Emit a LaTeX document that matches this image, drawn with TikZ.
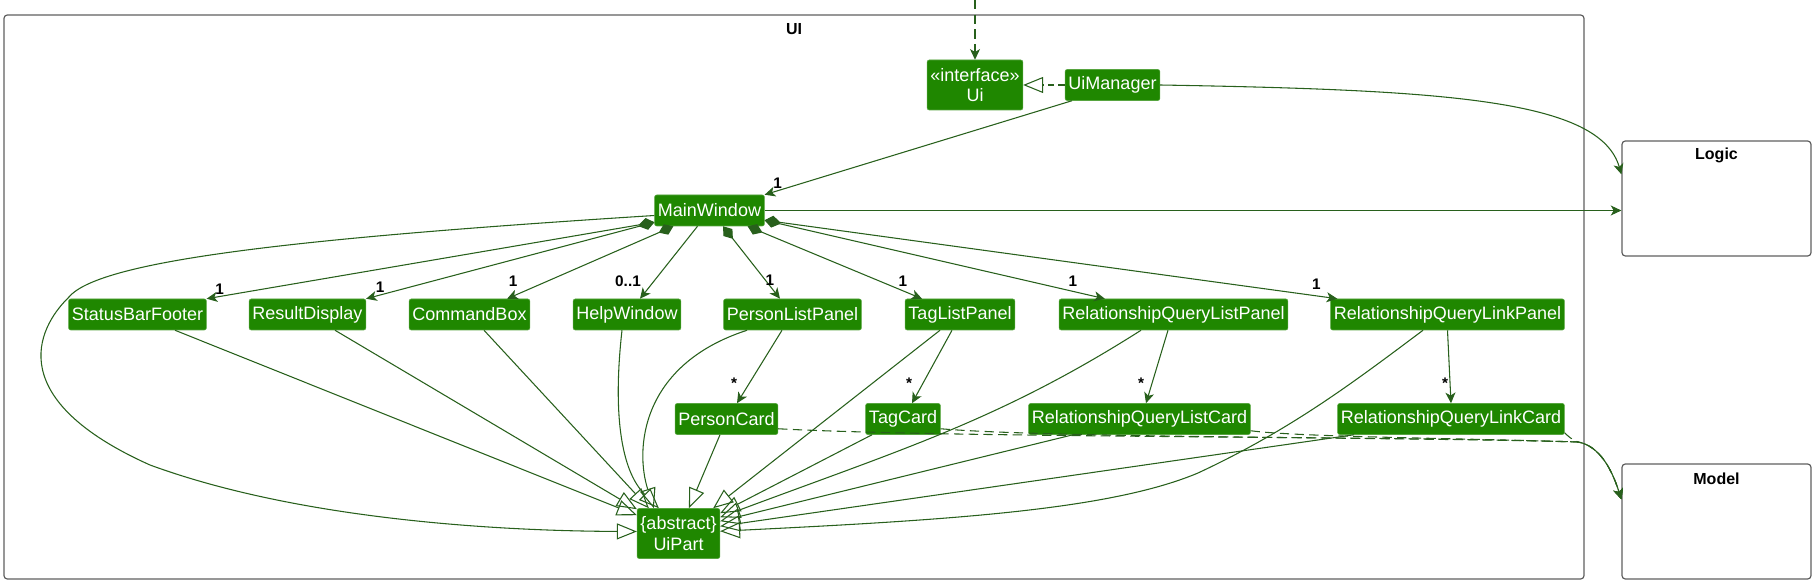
\documentclass[tikz,border=0pt]{standalone}
\usepackage{fontspec}
\setmainfont{Liberation Sans}
\usetikzlibrary{positioning, arrows.meta, calc}

\definecolor{umlgreen}{RGB}{31,135,0}
\definecolor{umlline}{RGB}{40,96,28}
\definecolor{umlframe}{RGB}{95,95,95}

\begin{document}
\begin{tikzpicture}[x=0.75pt, y=-0.75pt,
  cls/.style={draw=umlgreen!75!white, fill=umlgreen, rounded corners=1.5pt, text=white,
    font=\fontsize{13.5}{15.5}\selectfont, inner xsep=2.5pt, inner ysep=0pt,
    minimum height=23.25pt, align=center},
  pkg/.style={draw=umlframe, line width=0.9pt, rounded corners=2.5pt},
  pkgname/.style={font=\fontsize{12}{14}\selectfont\bfseries, inner sep=0pt},
  lbl/.style={font=\fontsize{11.5}{13}\selectfont\bfseries, inner sep=0pt},
  link/.style={draw=umlline, line width=0.8pt},
  assoc/.style={link, -{Stealth[length=8pt, width=7.5pt, inset=2.2pt]}},
  comp/.style={link, {Diamond[length=12pt, width=8.5pt]}-{Stealth[length=8pt, width=7.5pt, inset=2.2pt]}},
  inherit/.style={link, -{Triangle[open, length=15pt, width=12pt]}},
  realize/.style={inherit, dash pattern=on 5pt off 3pt},
  dep/.style={assoc, dash pattern=on 7pt off 4pt}
]
  \useasboundingbox (0,0) rectangle (1817,580);

  % packages
  \draw[pkg] (4,15) rectangle (1584,579);
  \node[pkgname] (uititle) at (794,29) {UI};
  \node[pkg, minimum width=141.75pt, minimum height=86.25pt, inner sep=0pt] (logic) at (1716.5,198.5) {};
  \node[pkgname] (logictitle) at ($(logic.north)+(0,15)$) {Logic};
  \node[pkg, minimum width=141.75pt, minimum height=86.25pt, inner sep=0pt] (model) at (1716.5,521.5) {};
  \node[pkgname] (modeltitle) at ($(model.north)+(0,15)$) {Model};

  % classes
  \node[cls, minimum height=37.5pt] (ui) at (975,85) {«interface»\\Ui};
  \node[cls] (uimgr) at (1112.5,85) {UiManager};
  \node[cls] (mainw) at (709.5,210.5) {MainWindow};

  \node[cls] (sbf)  at (137.5,314.5)  {StatusBarFooter};
  \node[cls] (rd)   at (307.5,314.5)  {ResultDisplay};
  \node[cls] (cb)   at (469.5,314.5)  {CommandBox};
  \node[cls] (hw)   at (627,314.5)    {HelpWindow};
  \node[cls] (plp)  at (792.5,314.5)  {PersonListPanel};
  \node[cls] (tlp)  at (960,314.5)    {TagListPanel};
  \node[cls] (rqlp) at (1173.5,314.5) {RelationshipQueryListPanel};
  \node[cls] (rqkp) at (1447.5,314.5) {RelationshipQueryLinkPanel};

  \node[cls] (pcard) at (726.5,419)  {PersonCard};
  \node[cls] (tcard) at (903,419)    {TagCard};
  \node[cls] (rqlc)  at (1139.5,419) {RelationshipQueryListCard};
  \node[cls] (rqkc)  at (1451,419)   {RelationshipQueryLinkCard};

  \node[cls, minimum height=37.5pt] (uipart) at (678.5,533.5) {\{abstract\}\\UiPart};

  % ui, manager, logic
  \coordinate (uiin) at (975,0);
  \draw[dep] (uiin) -- (ui.north);
  \draw[realize] (uimgr.west) -- (ui.east);
  \draw[assoc] ($(uimgr.south west)+(7,0)$) -- (mainw.north east) node[lbl, at end, shift={(13,-12)}] {1};
  \draw[assoc] (uimgr.east) .. controls (1450,90) and (1600,100) .. ($(logic.north west)+(0,34)$);
  \draw[assoc] (mainw.east) -- (mainw.east -| logic.west);

  % parts of the main window
  \draw[comp] ($(mainw.south west)+(0,-4)$) -- (sbf.north east) node[lbl, at end, shift={(13,-10)}] {1};
  \draw[comp] ($(mainw.south west)+(0,-4)$) -- (rd.north east) node[lbl, at end, shift={(14,-12)}] {1};
  \draw[comp] ($(mainw.south west)+(19,0)$) -- ($(cb.north east)+(-23,0)$) node[lbl, at end, shift={(6,-18)}] {1};
  \draw[assoc] ($(mainw.south)+(-12,0)$) -- ($(hw.north)+(13,0)$) node[lbl, at end, shift={(-12,-18)}] {0..1};
  \draw[comp] ($(mainw.south)+(13.5,0)$) -- ($(plp.north)+(-12.5,0)$) node[lbl, at end, shift={(-10,-19)}] {1};
  \draw[comp] ($(mainw.south east)+(-17,0)$) -- ($(tlp.north)+(-38,0)$) node[lbl, at end, shift={(-19,-18)}] {1};
  \draw[comp] ($(mainw.south east)+(0,-6)$) -- ($(rqlp.north west)+(46,0)$) node[lbl, at end, shift={(-32,-18)}] {1};
  \draw[comp] ($(mainw.south east)+(0,-6)$) -- ($(rqkp.north west)+(7,0)$) node[lbl, at end, shift={(-21,-15)}] {1};

  % panels to cards
  \draw[assoc] ($(plp.south)+(-10.5,0)$) -- ($(pcard.north)+(10.5,0)$) node[lbl, at end, shift={(-3,-20)}] {*};
  \draw[assoc] ($(tlp.south)+(-8,0)$) -- ($(tcard.north)+(9,0)$) node[lbl, at end, shift={(-3,-20)}] {*};
  \draw[assoc] ($(rqlp.south)+(-5.5,0)$) -- ($(rqlc.north)+(6.5,0)$) node[lbl, at end, shift={(-5,-20)}] {*};
  \draw[assoc] (rqkp.south) -- (rqkc.north) node[lbl, at end, shift={(-6,-20)}] {*};

  % everything is a UiPart
  \draw[inherit] ($(mainw.west)+(0,5)$) .. controls (300,238) and (100,260) .. (69,297)
    .. controls (35,330) and (5,400) .. (150,465) .. controls (300,520) and (500,531) .. ($(uipart.west)+(0,-2)$);
  \draw[inherit] ($(sbf.south)+(37.5,0)$) -- ($(uipart.north west)+(0,7)$);
  \draw[inherit] ($(rd.south)+(27.5,0)$) -- ($(uipart.north west)+(0,1)$);
  \draw[inherit] ($(cb.south)+(14.5,0)$) -- ($(uipart.north west)+(12,0)$);
  \draw[inherit] ($(hw.south)+(-5,0)$) .. controls (613,410) and (620,470) .. ($(uipart.north west)+(22,0)$);
  \draw[inherit] ($(plp.south)+(-45.5,0)$) .. controls (640,365) and (635,450) .. ($(uipart.north west)+(17,0)$);
  \draw[inherit] ($(pcard.south)+(-6.5,0)$) -- ($(uipart.north west)+(52,0)$);
  \draw[inherit] ($(tlp.south)+(-20,0)$) -- ($(uipart.north east)+(-7,0)$);
  \draw[inherit] ($(tcard.south)+(-31,0)$) -- ($(uipart.north east)+(0,5)$);
  \draw[inherit] ($(rqlp.south)+(-32.5,0)$) .. controls (1000,420) and (900,450) .. ($(uipart.north east)+(0,9)$);
  \draw[inherit] ($(rqlc.south)+(-66.5,0)$) -- ($(uipart.north east)+(0,13)$);
  \draw[inherit] ($(rqkc.south)+(-97,0)$) -- ($(uipart.north east)+(0,18)$);
  \draw[inherit] ($(rqkp.south)+(-24.5,0)$) .. controls (1350,385) and (1290,430) .. (1198,473)
    .. controls (1110,510) and (950,520) .. ($(uipart.north east)+(0,23)$);

  % cards use the model
  \coordinate (mjoin) at (1578,442);
  \draw[dep] ($(pcard.south east)+(0,-6)$) .. controls (950,438) and (1400,436) .. (mjoin)
    .. controls (1600,446) and (1612,470) .. ($(model.north west)+(0,36)$);
  \draw[dep] ($(tcard.south east)+(0,-6)$) .. controls (1050,438) and (1400,437) .. (mjoin)
    .. controls (1600,446) and (1612,470) .. ($(model.north west)+(0,36)$);
  \draw[dep] ($(rqlc.south east)+(0,-4)$) .. controls (1300,437) and (1450,438) .. (mjoin)
    .. controls (1600,446) and (1612,470) .. ($(model.north west)+(0,36)$);
  \draw[dep] ($(rqkc.south east)+(0,-2)$) .. controls (1570,438) .. (mjoin)
    .. controls (1600,446) and (1612,470) .. ($(model.north west)+(0,36)$);
\end{tikzpicture}
\end{document}
